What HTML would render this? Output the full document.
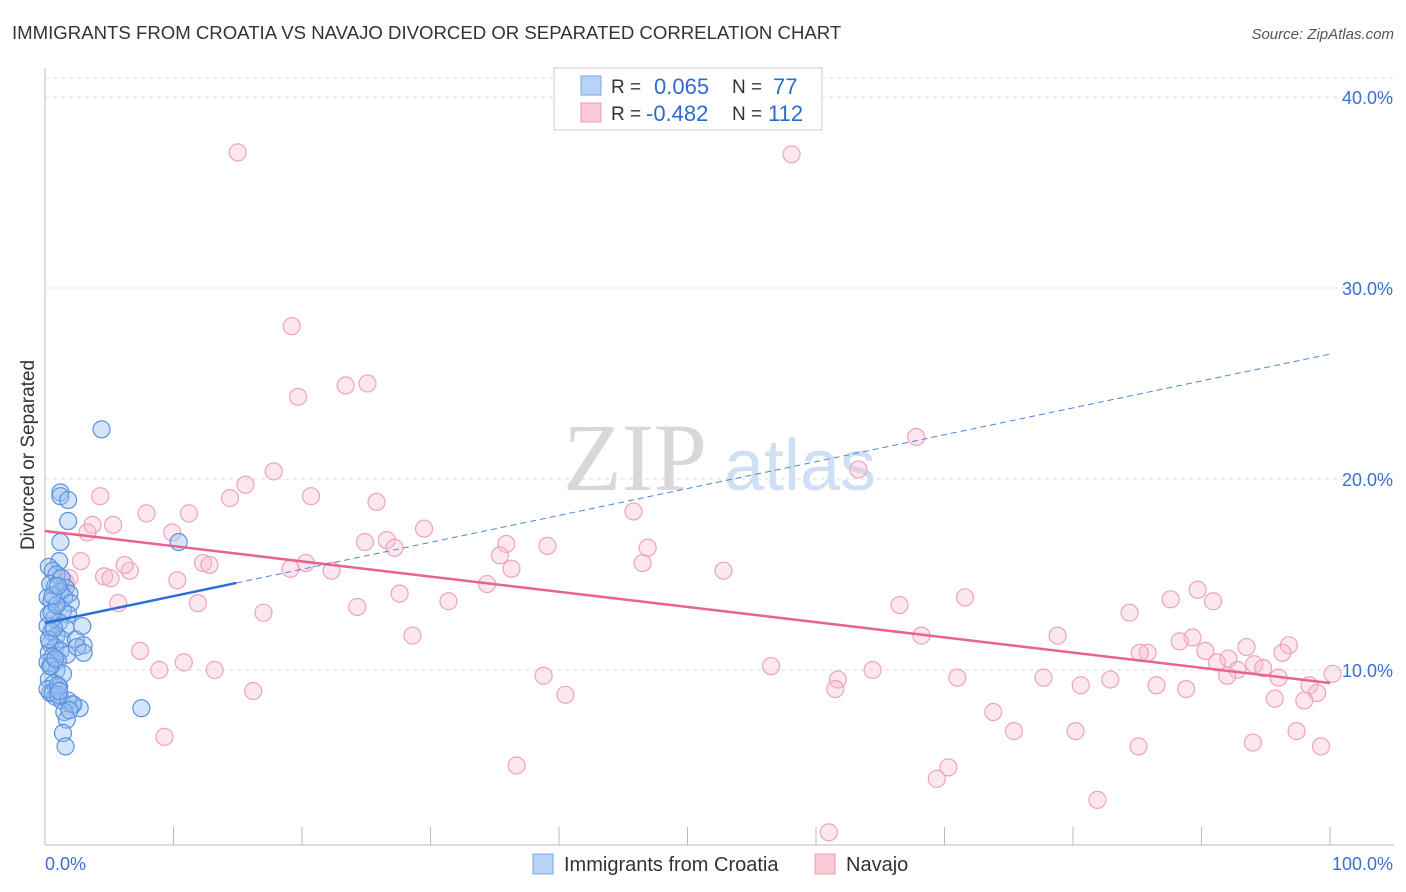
<!DOCTYPE html>
<html><head><meta charset="utf-8"><style>
body{margin:0;background:#fff;font-family:"Liberation Sans",sans-serif;}
svg{display:block}
</style></head><body>
<svg id="c" width="1406" height="892" xmlns="http://www.w3.org/2000/svg">
<text x="12" y="39" font-size="18.6" fill="#333">IMMIGRANTS FROM CROATIA VS NAVAJO DIVORCED OR SEPARATED CORRELATION CHART</text>
<text x="1394" y="39" font-size="15" fill="#555" text-anchor="end" font-style="italic">Source: ZipAtlas.com</text>
<text x="34" y="455" font-size="19" fill="#333" text-anchor="middle" transform="rotate(-90 34 455)">Divorced or Separated</text>
<g>
<text x="635" y="490" font-size="96" fill="#d8d8d8" text-anchor="middle" font-family="Liberation Serif,serif">ZIP</text>
<text x="800" y="490" font-size="72" fill="#cfe0f5" text-anchor="middle">atlas</text>
</g>
<g id="grid"></g><g id="pts"></g><g id="lines"></g>
<g>
<rect x="554" y="68" width="268" height="62" fill="#fff" stroke="#ccc"/>
<rect x="581" y="76" width="20" height="19" fill="#b8d3f5" stroke="#7aa8e6"/>
<rect x="581" y="103" width="20" height="19" fill="#f9c9d6" stroke="#ec9ab3"/>
<text x="611" y="93" font-size="19" fill="#333">R =</text><text x="654" y="94" font-size="22" fill="#2e6bd0">0.065</text>
<text x="732" y="93" font-size="19" fill="#333">N =</text><text x="773" y="94" font-size="22" fill="#2e6bd0">77</text>
<text x="611" y="120" font-size="19" fill="#333">R =</text><text x="646" y="121" font-size="22" fill="#2e6bd0">-0.482</text>
<text x="732" y="120" font-size="19" fill="#333">N =</text><text x="768" y="121" font-size="22" fill="#2e6bd0">112</text>
</g>
<g>
<rect x="533" y="854" width="20" height="20" fill="#b8d3f5" stroke="#7aa8e6"/>
<text x="564" y="871" font-size="20" fill="#333">Immigrants from Croatia</text>
<rect x="815" y="854" width="20" height="20" fill="#f9c9d6" stroke="#ec9ab3"/>
<text x="846" y="871" font-size="20" fill="#333">Navajo</text>
</g>
</svg>
<script>
const yTicks=[10,20,30,40];
const xTickLabels=["0.0%","100.0%"];
// Croatia (blue) points in % units [x, y]
const blueX=[4.4,10.4,1.2,1.2,1.8,1.8,1.2,1.1,0.3,0.6,0.9,1.3,1.6,1.9,0.4,0.8,1.2,1.5,2.0,0.2,0.5,0.9,1.4,1.8,0.3,0.7,1.1,1.6,0.2,0.5,0.9,1.3,2.4,3.0,0.4,0.8,1.2,1.7,0.3,0.6,1.0,0.2,0.5,0.9,1.4,0.3,0.7,1.1,2.5,0.4,0.8,0.2,0.6,1.0,0.3,0.7,0.5,0.9,7.5,1.3,2.1,2.7,1.0,1.8,2.2,1.5,1.7,1.4,1.6,1.9,1.1,0.6,1.0,0.4,0.8,2.9,3.0];
const blueY=[22.6,16.7,19.3,19.1,18.9,17.8,16.7,15.7,15.4,15.2,15.0,14.8,14.3,14.0,14.5,14.4,14.1,13.8,13.5,13.8,13.6,13.4,13.1,12.9,12.9,12.7,12.5,12.2,12.3,12.0,11.8,11.6,11.6,11.3,11.4,11.2,11.0,10.8,10.9,10.7,10.5,10.4,10.2,10.0,9.8,9.5,9.3,9.1,11.2,8.8,8.6,9.0,8.8,9.2,11.6,12.2,13.0,13.4,8.0,8.4,8.2,8.0,8.7,8.4,8.2,7.8,7.4,6.7,6.0,7.9,8.9,13.9,14.4,10.2,10.6,12.3,10.9];
// Navajo (pink) points
const pinkX=[15.0,58.1,19.2,19.7,23.4,25.1,67.8,63.3,17.8,15.6,14.4,4.3,20.7,25.8,7.9,11.2,3.7,5.3,3.3,9.9,45.8,29.5,24.9,26.6,27.2,35.9,39.1,46.9,2.8,20.3,19.1,12.3,12.8,6.6,6.2,35.4,36.3,46.5,52.8,22.3,1.9,4.6,10.3,34.4,27.6,5.7,11.9,24.3,31.4,17.0,66.5,71.6,89.7,87.6,90.9,84.4,28.6,68.2,78.8,89.3,88.3,93.5,96.8,90.3,92.1,85.8,96.3,85.2,7.4,56.5,64.4,91.2,94.1,94.8,92.8,92.0,96.0,100.2,8.9,13.2,10.8,16.2,38.8,61.7,61.5,71.0,77.7,80.6,82.9,86.5,88.8,98.4,99.0,40.5,73.8,95.7,98.0,75.4,80.2,97.4,85.1,94.0,99.3,9.3,36.7,70.3,69.4,81.9,61.0,5.1,1.2,1.6];
const pinkY=[37.1,37.0,28.0,24.3,24.9,25.0,22.2,20.5,20.4,19.7,19.0,19.1,19.1,18.8,18.2,18.2,17.6,17.6,17.2,17.2,18.3,17.4,16.7,16.8,16.4,16.6,16.5,16.4,15.7,15.6,15.3,15.6,15.5,15.2,15.5,16.0,15.3,15.6,15.2,15.2,14.8,14.9,14.7,14.5,14.0,13.5,13.5,13.3,13.6,13.0,13.4,13.8,14.2,13.7,13.6,13.0,11.8,11.8,11.8,11.7,11.5,11.2,11.3,11.0,10.6,10.9,10.9,10.9,11.0,10.2,10.0,10.4,10.3,10.1,10.0,9.7,9.6,9.8,10.0,10.0,10.4,8.9,9.7,9.5,9.0,9.6,9.6,9.2,9.5,9.2,9.0,9.2,8.8,8.7,7.8,8.5,8.4,6.8,6.8,6.8,6.0,6.2,6.0,6.5,5.0,4.9,4.3,3.2,1.5,14.8,14.9,14.6];
// Trend lines: [value at x=0, value at x=100]
const blueTrend=[12.46,26.54];
const blueSolidEnd=14.9;
const pinkTrend=[17.28,9.32];

const X0=45,X1=1330,Y0=861,PY=19.1;
const sx=v=>X0+v*(X1-X0)/100;
const sy=v=>Y0-v*PY;
const NS='http://www.w3.org/2000/svg';
function mk(t,a,p){const e=document.createElementNS(NS,t);for(const k in a)e.setAttribute(k,a[k]);p.appendChild(e);return e;}
const grid=document.getElementById('grid');
let ax=mk('line',{x1:X0,y1:68,x2:X0,y2:845,stroke:'#bbb'},grid);


let bx=mk('line',{x1:X0,y1:845,x2:1394,y2:845,stroke:'#bbb'},grid);


mk('line',{x1:X0,y1:78,x2:1394,y2:78,stroke:'#ddd','stroke-dasharray':'4,4'},grid);
yTicks.forEach(v=>{
  const g=mk('line',{x1:X0,y1:sy(v),x2:1394,y2:sy(v),stroke:'#ddd','stroke-dasharray':'4,4'},grid);
  
  
  const t=mk('text',{x:1393,y:sy(v)+7,'font-size':18,fill:'#3a70d0','text-anchor':'end'},grid);
  t.textContent=v.toFixed(1)+'%';
  
  
});
for(let i=0;i<=10;i++){
  const tk=mk('line',{x1:sx(i*10),y1:827,x2:sx(i*10),y2:845,stroke:'#bbb'},grid);
  
  
}
[[0,'start',X0],[1,'end',1393]].forEach(([i,a,x])=>{
  const t=mk('text',{x:x,y:870,'font-size':18,fill:'#3a70d0','text-anchor':a},grid);
  t.textContent=xTickLabels[i];
  
  
});
const pts=document.getElementById('pts');
pinkX.forEach((x,i)=>{
  const c=mk('circle',{cx:sx(x),cy:sy(pinkY[i]),r:8.5,fill:'rgba(248,187,205,0.35)',stroke:'#eea4bb','stroke-width':1.2},pts);
  
  
});
blueX.forEach((x,i)=>{
  const c=mk('circle',{cx:sx(x),cy:sy(blueY[i]),r:8.5,fill:'rgba(150,190,240,0.4)',stroke:'#5b92de','stroke-width':1.2},pts);
  
  
});
const ln=document.getElementById('lines');
const bAt=x=>blueTrend[0]+(blueTrend[1]-blueTrend[0])*x/100;
let l1=mk('line',{x1:sx(0),y1:sy(pinkTrend[0]),x2:sx(100),y2:sy(pinkTrend[1]),stroke:'#e8638f','stroke-width':2.5},ln);


let l2=mk('line',{x1:sx(0),y1:sy(bAt(0)),x2:sx(blueSolidEnd),y2:sy(bAt(blueSolidEnd)),stroke:'#2a6dd6','stroke-width':2.5},ln);


let l3=mk('line',{x1:sx(blueSolidEnd),y1:sy(bAt(blueSolidEnd)),x2:sx(100),y2:sy(bAt(100)),stroke:'#4a86dc','stroke-width':1,'stroke-dasharray':'6,4'},ln);


</script>
</body></html>
